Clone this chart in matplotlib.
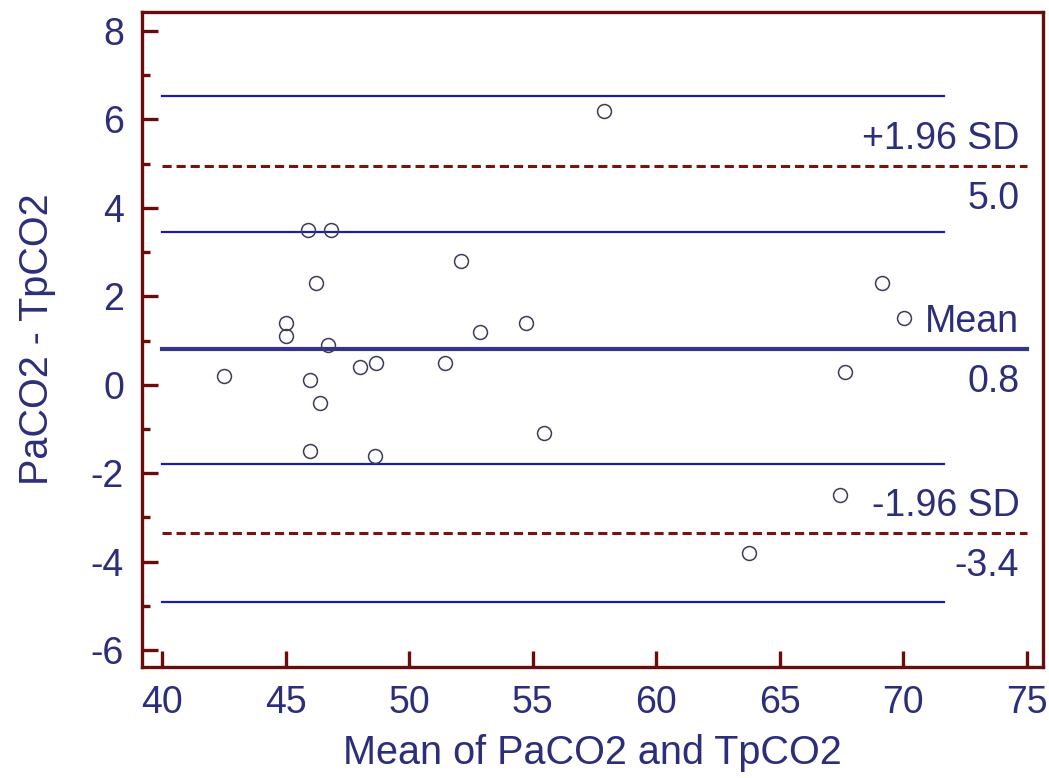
import matplotlib
matplotlib.use("Agg")
from matplotlib import pyplot as plt
from matplotlib.ticker import MultipleLocator

plt.rcParams['font.family'] = ['Liberation Sans', 'DejaVu Sans']
plt.rcParams['axes.unicode_minus'] = False

# data
mean_x = [57.9, 45.9, 46.85, 46.25, 52.1, 45.0, 45.0, 46.7, 42.5, 46.0, 46.4, 48.0,
          48.65, 51.45, 52.85, 54.75, 55.45, 46.0, 48.6, 63.75, 67.45, 67.65, 69.15, 70.05]
diff_y = [6.2, 3.5, 3.5, 2.3, 2.8, 1.4, 1.1, 0.9, 0.2, 0.1, -0.4, 0.4,
          0.5, 0.5, 1.2, 1.4, -1.1, -1.5, -1.6, -3.8, -2.5, 0.3, 2.3, 1.5]
bias = 0.8
upper_loa = 4.95
lower_loa = -3.35
ci_lines = [6.52, 3.45, -1.78, -4.9]
ci_xrange = [40, 71.65]
line_xrange = [40, 75]

text_col = '#2c2e7c'
spine_col = '#6a0c0c'

fig = plt.figure(figsize=(10.49, 7.78), dpi=100)
ax = fig.add_axes([0.1354, 0.1427, 0.8589, 0.8419])

for yv in ci_lines:
    ax.plot(ci_xrange, [yv, yv], color='#1c1ca8', lw=1.6, zorder=2)
ax.plot(line_xrange, [bias, bias], color='#34348c', lw=3.0, zorder=2)
for yv in (upper_loa, lower_loa):
    ax.plot(line_xrange, [yv, yv], color='#7e1010', lw=2.2, ls=(0, (3, 1.6)), zorder=2)

ax.plot(mean_x, diff_y, ls='none', marker='o', ms=10, mfc='none', mec='#3c3c5c', mew=1.1, zorder=3)

labels = [(upper_loa, '+1.96 SD', '%.1f' % upper_loa),
          (bias, 'Mean', '%.1f' % bias),
          (lower_loa, '-1.96 SD', '%.1f' % lower_loa)]
for yv, top, bot in labels:
    ax.annotate(top, (74.7, yv), xytext=(0, 19.5), textcoords='offset points',
                ha='right', va='center', fontsize=27, color=text_col)
    ax.annotate(bot, (74.7, yv), xytext=(0, -23.5), textcoords='offset points',
                ha='right', va='center', fontsize=27, color=text_col)

ax.set_xlim(39.19, 75.66)
ax.set_ylim(-6.38, 8.43)
ax.xaxis.set_major_locator(MultipleLocator(5))
ax.yaxis.set_major_locator(MultipleLocator(2))
ax.yaxis.set_minor_locator(MultipleLocator(1))

for s in ax.spines.values():
    s.set_color(spine_col)
    s.set_linewidth(2.4)
ax.tick_params(which='both', direction='in', color=spine_col, width=2.4,
               top=False, right=False, labelsize=27, labelcolor=text_col)
ax.tick_params(axis='y', which='major', length=11.5, pad=13)
ax.tick_params(axis='y', which='minor', length=6)
ax.tick_params(axis='x', which='major', length=11.5, pad=13)

ax.set_xlabel('Mean of PaCO2 and TpCO2', fontsize=28.5, color=text_col, labelpad=9)
ax.set_ylabel('PaCO2 - TpCO2', fontsize=28.5, color=text_col, labelpad=25)

fig.savefig('out.png', dpi=100)
